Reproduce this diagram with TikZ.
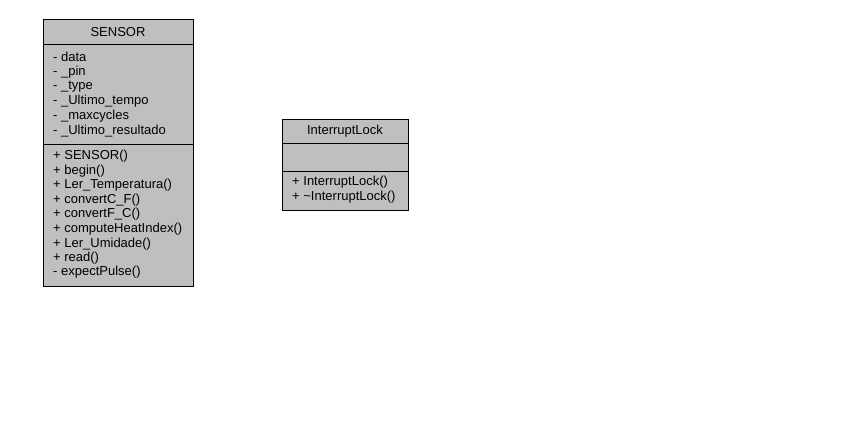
\documentclass[tikz,border=0pt]{standalone}
\usepackage{fontspec}
\setmainfont{Liberation Sans}
\begin{document}
\begin{tikzpicture}[x=1pt,y=-1pt,
  classbox/.style={draw=black,fill=gray!50,line width=0.9pt},
  divline/.style={draw=black,line width=0.9pt},
  title/.style={font=\fontsize{13}{15}\selectfont,inner sep=0pt,anchor=center},
  member/.style={font=\fontsize{13}{15}\selectfont,inner sep=0pt,anchor=west}]
\useasboundingbox (0,0) rectangle (861,421);
% SENSOR
\path[classbox] (43,19) rectangle (193,286);
\draw[divline] (43,44) -- (193,44);
\draw[divline] (43,144) -- (193,144);
\node[title] (sensorT) at (118,32) {SENSOR};
\node[member] (a1) at (53,57) {- data};
\node[member] (a2) at (53,72) {- \_pin};
\node[member] (a3) at (53,87) {- \_type};
\node[member] (a4) at (53,101) {- \_Ultimo\_tempo};
\node[member] (a5) at (53,116) {- \_maxcycles};
\node[member] (a6) at (53,131) {- \_Ultimo\_resultado};
\node[member] (m1) at (53,156) {+ SENSOR()};
\node[member] (m2) at (53,171) {+ begin()};
\node[member] (m3) at (53,185) {+ Ler\_Temperatura()};
\node[member] (m4) at (53,200) {+ convertC\_F()};
\node[member] (m5) at (53,214) {+ convertF\_C()};
\node[member] (m6) at (53,229) {+ computeHeatIndex()};
\node[member] (m7) at (53,244) {+ Ler\_Umidade()};
\node[member] (m8) at (53,258) {+ read()};
\node[member] (m9) at (53,272) {- expectPulse()};
% InterruptLock
\path[classbox] (282,119) rectangle (408,210);
\draw[divline] (282,143) -- (408,143);
\draw[divline] (282,171) -- (408,171);
\node[title] (ilT) at (345,131.5) {InterruptLock};
\node[member] (i1) at (292,182) {+ InterruptLock()};
\node[member] (i2) at (292,197) {+ \textasciitilde InterruptLock()};
\end{tikzpicture}
\end{document}
